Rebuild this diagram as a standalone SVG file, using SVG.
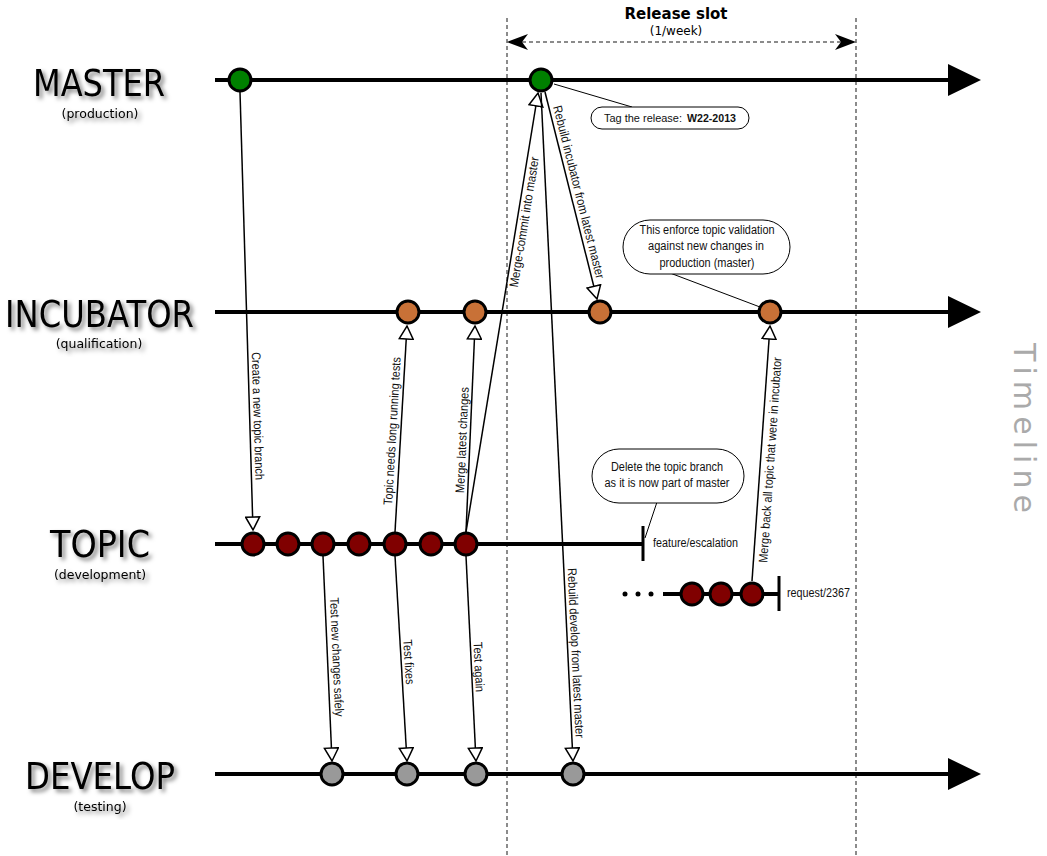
<svg xmlns="http://www.w3.org/2000/svg" width="1047" height="856" viewBox="0 0 1047 856">
<defs>
<style>
.lane{stroke:#000;stroke-width:4;fill:none}
.dash{stroke:#666;stroke-width:1.5;stroke-dasharray:4 3;fill:none}
.conn{stroke:#000;stroke-width:1.5;fill:none;marker-end:url(#open)}
.thin{stroke:#000;stroke-width:1;fill:none}
.title{font-family:"DejaVu Sans",sans-serif;font-size:38px;fill:#000;filter:url(#sh)}
.sub{font-family:"DejaVu Sans",sans-serif;font-size:12.5px;fill:#000;text-anchor:middle;filter:url(#sh)}
.lbl{font-family:"Liberation Sans",Arial,sans-serif;font-size:12.5px;fill:#111;text-anchor:middle}
.llbl{font-family:"Liberation Sans",Arial,sans-serif;font-size:12.5px;fill:#111}
.callout{fill:#fff;stroke:#000;stroke-width:1}
.m{fill:#008000;stroke:#000;stroke-width:3}
.i{fill:#c87137;stroke:#000;stroke-width:3}
.t{fill:#800000;stroke:#000;stroke-width:3}
.d{fill:#999;stroke:#000;stroke-width:3}
</style>
<filter id="sh" x="-10%" y="-30%" width="130%" height="170%">
<feDropShadow dx="3" dy="3" stdDeviation="2.2" flood-color="#000" flood-opacity="0.5"/>
</filter>
<marker id="open" markerUnits="userSpaceOnUse" markerWidth="16" markerHeight="16" viewBox="-1 -8 16 16" refX="13" refY="0" orient="auto">
<path d="M0,-7 L13,0 L0,7 Z" fill="#fff" stroke="#000" stroke-width="1.5"/>
</marker>
</defs>
<rect width="1047" height="856" fill="#fff"/>

<!-- release slot -->
<g id="release-slot">
<line class="dash" x1="507" y1="18" x2="507" y2="856"/>
<line class="dash" x1="856" y1="18" x2="856" y2="856"/>
<line class="dash" x1="515" y1="42" x2="848" y2="42"/>
<polygon points="507,42 528,34 522,42 528,50" fill="#000"/>
<polygon points="856,42 835,34 841,42 835,50" fill="#000"/>
<text x="676" y="19" font-family="DejaVu Sans,sans-serif" font-size="15" font-weight="bold" text-anchor="middle">Release slot</text>
<text x="676" y="35" font-family="DejaVu Sans,sans-serif" font-size="12" text-anchor="middle">(1/week)</text>
</g>

<!-- lanes -->
<g id="lane-master">
<line class="lane" x1="215" y1="80" x2="952" y2="80"/>
<polygon points="948,64 981,80 948,96" fill="#000"/>
<text class="title" x="33" y="96" textLength="132" lengthAdjust="spacingAndGlyphs">MASTER</text>
<text class="sub" x="100" y="118">(production)</text>
</g>
<g id="lane-incubator">
<line class="lane" x1="215" y1="312" x2="952" y2="312"/>
<polygon points="948,296 981,312 948,328" fill="#000"/>
<text class="title" x="5" y="327" textLength="189" lengthAdjust="spacingAndGlyphs">INCUBATOR</text>
<text class="sub" x="99" y="348">(qualification)</text>
</g>
<g id="lane-topic">
<line class="lane" x1="215" y1="544" x2="643" y2="544"/>
<line x1="643" y1="526" x2="643" y2="561" stroke="#000" stroke-width="3"/>
<text class="title" x="50" y="557" textLength="100" lengthAdjust="spacingAndGlyphs">TOPIC</text>
<text class="sub" x="100" y="579">(development)</text>
<text class="llbl" x="653" y="547" textLength="85" lengthAdjust="spacingAndGlyphs">feature/escalation</text>
</g>
<g id="lane-request">
<circle cx="625" cy="594" r="2.5" fill="#000"/>
<circle cx="638" cy="594" r="2.5" fill="#000"/>
<circle cx="651" cy="594" r="2.5" fill="#000"/>
<line class="lane" x1="663" y1="594" x2="779" y2="594"/>
<line x1="779" y1="576" x2="779" y2="611" stroke="#000" stroke-width="3"/>
<text class="llbl" x="787" y="597" textLength="63" lengthAdjust="spacingAndGlyphs">request/2367</text>
</g>
<g id="lane-develop">
<line class="lane" x1="215" y1="774" x2="952" y2="774"/>
<polygon points="948,758 981,774 948,790" fill="#000"/>
<text class="title" x="25" y="789" textLength="150" lengthAdjust="spacingAndGlyphs">DEVELOP</text>
<text class="sub" x="100" y="811">(testing)</text>
</g>

<g id="timeline">
<text transform="translate(1014,428) rotate(90)" font-family="DejaVu Sans,sans-serif" font-size="30" fill="#aaa" text-anchor="middle" textLength="170" lengthAdjust="spacing">Timeline</text>
</g>

<!-- connectors -->
<g id="connectors">
<line class="conn" x1="240" y1="92" x2="253" y2="530"/>
<line class="conn" x1="395" y1="532" x2="407" y2="326"/>
<line class="conn" x1="466" y1="532" x2="475" y2="326"/>
<line class="conn" x1="466" y1="532" x2="538" y2="93"/>
<line class="conn" x1="545" y1="92" x2="597" y2="299"/>
<line class="conn" x1="541" y1="93" x2="573" y2="761"/>
<line class="conn" x1="323" y1="556" x2="332" y2="761"/>
<line class="conn" x1="395" y1="556" x2="407" y2="761"/>
<line class="conn" x1="466" y1="556" x2="476" y2="761"/>
<line class="conn" x1="752" y1="581" x2="770" y2="326"/>
<text class="lbl" transform="translate(258,416) rotate(88.3)" dy="0.35em" textLength="128" lengthAdjust="spacingAndGlyphs">Create a new topic branch</text>
<text class="lbl" transform="translate(392,431) rotate(-86.7)" dy="0.35em" textLength="148" lengthAdjust="spacingAndGlyphs">Topic needs long running tests</text>
<text class="lbl" transform="translate(462,440) rotate(-87.5)" dy="0.35em" textLength="106" lengthAdjust="spacingAndGlyphs">Merge latest changes</text>
<text class="lbl" transform="translate(524,222) rotate(-80.7)" dy="0.35em" textLength="132" lengthAdjust="spacingAndGlyphs">Merge-commit into master</text>
<text class="lbl" transform="translate(579,192) rotate(75.9)" dy="0.35em" textLength="178" lengthAdjust="spacingAndGlyphs">Rebuild incubator from latest master</text>
<text class="lbl" transform="translate(576,653) rotate(87.3)" dy="0.35em" textLength="170" lengthAdjust="spacingAndGlyphs">Rebuild develop from latest master</text>
<text class="lbl" transform="translate(337,657) rotate(87.5)" dy="0.35em" textLength="119" lengthAdjust="spacingAndGlyphs">Test new changes safely</text>
<text class="lbl" transform="translate(409,662) rotate(86.6)" dy="0.35em" textLength="45" lengthAdjust="spacingAndGlyphs">Test fixes</text>
<text class="lbl" transform="translate(479,667) rotate(87.2)" dy="0.35em" textLength="50" lengthAdjust="spacingAndGlyphs">Test again</text>
<text class="lbl" transform="translate(770,460) rotate(-86)" dy="0.35em" textLength="206" lengthAdjust="spacingAndGlyphs">Merge back all topic that were in incubator</text>
</g>

<!-- callouts -->
<g id="callout-tag">
<line class="thin" x1="554" y1="84" x2="632" y2="107"/>
<rect class="callout" x="591" y="107" width="158" height="22" rx="11"/>
<text class="llbl" x="604" y="122" font-size="11" textLength="78" lengthAdjust="spacingAndGlyphs" style="font-size:11.5px">Tag the release:</text>
<text class="llbl" x="687" y="122" font-weight="bold" textLength="49" lengthAdjust="spacingAndGlyphs" style="font-size:11.5px">W22-2013</text>
</g>
<g id="callout-enforce">
<line class="thin" x1="670" y1="273" x2="760" y2="307"/>
<rect class="callout" x="623" y="220" width="167" height="54" rx="27"/>
<text class="lbl" x="707" y="234" textLength="135" lengthAdjust="spacingAndGlyphs">This enforce topic validation</text>
<text class="lbl" x="706" y="250" textLength="116" lengthAdjust="spacingAndGlyphs">against new changes in</text>
<text class="lbl" x="707" y="267" textLength="95" lengthAdjust="spacingAndGlyphs">production (master)</text>
</g>
<g id="callout-delete">
<line class="thin" x1="657" y1="502" x2="645" y2="538"/>
<rect class="callout" x="592" y="449" width="152" height="54" rx="27"/>
<text class="lbl" x="667" y="471" textLength="112" lengthAdjust="spacingAndGlyphs">Delete the topic branch</text>
<text class="lbl" x="667" y="487" textLength="125" lengthAdjust="spacingAndGlyphs">as it is now part of master</text>
</g>

<!-- nodes -->
<g id="master-1"><circle class="m" cx="240" cy="80" r="11"/></g>
<g id="master-2"><circle class="m" cx="541" cy="80" r="11"/></g>
<g id="incubator-1"><circle class="i" cx="408" cy="312" r="11"/></g>
<g id="incubator-2"><circle class="i" cx="475" cy="312" r="11"/></g>
<g id="incubator-3"><circle class="i" cx="600" cy="312" r="11"/></g>
<g id="incubator-4"><circle class="i" cx="770" cy="312" r="11"/></g>
<g id="topic-1"><circle class="t" cx="253" cy="544" r="11"/></g>
<g id="topic-2"><circle class="t" cx="288" cy="544" r="11"/></g>
<g id="topic-3"><circle class="t" cx="323" cy="544" r="11"/></g>
<g id="topic-4"><circle class="t" cx="359" cy="544" r="11"/></g>
<g id="topic-5"><circle class="t" cx="395" cy="544" r="11"/></g>
<g id="topic-6"><circle class="t" cx="431" cy="544" r="11"/></g>
<g id="topic-7"><circle class="t" cx="466" cy="544" r="11"/></g>
<g id="request-1"><circle class="t" cx="692" cy="594" r="11"/></g>
<g id="request-2"><circle class="t" cx="721" cy="594" r="11"/></g>
<g id="request-3"><circle class="t" cx="752" cy="594" r="11"/></g>
<g id="develop-1"><circle class="d" cx="332" cy="774" r="11"/></g>
<g id="develop-2"><circle class="d" cx="407" cy="774" r="11"/></g>
<g id="develop-3"><circle class="d" cx="476" cy="774" r="11"/></g>
<g id="develop-4"><circle class="d" cx="573" cy="774" r="11"/></g>
</svg>
